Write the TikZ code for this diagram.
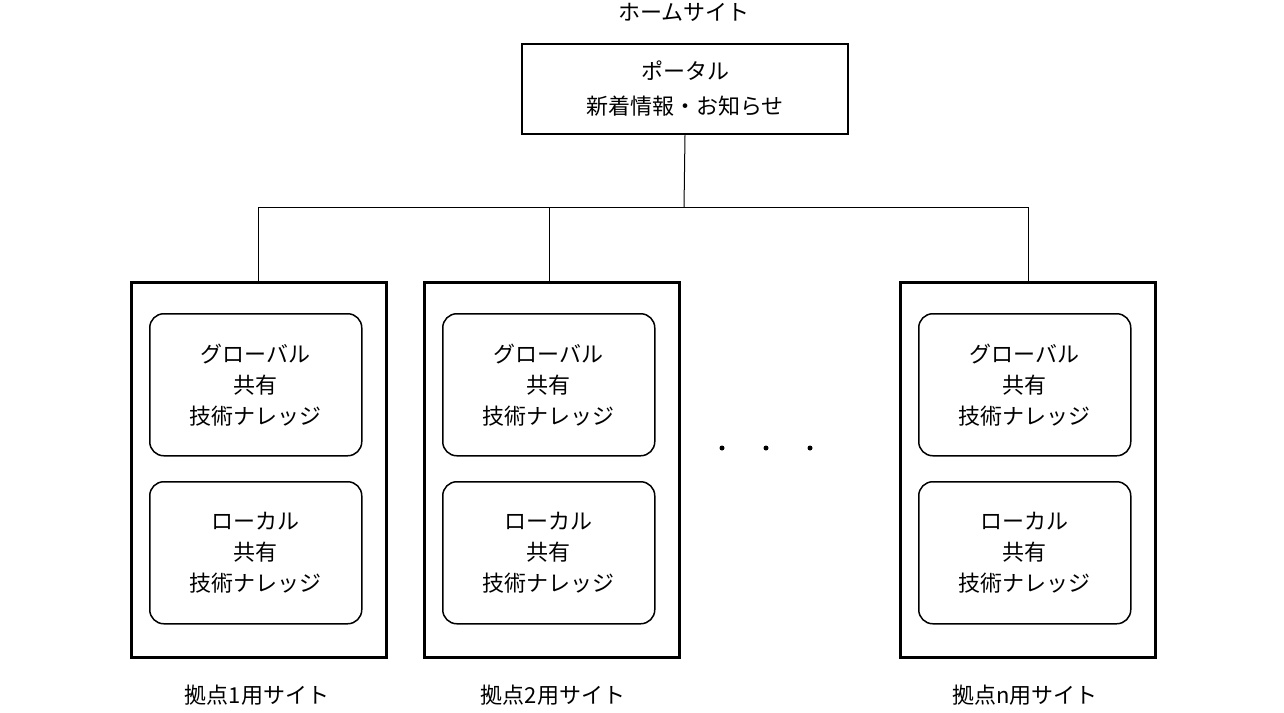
\documentclass[tikz,border=0pt]{standalone}
\usepackage{fontspec}
\setmainfont{Noto Sans CJK JP}
\begin{document}
\begin{tikzpicture}[x=1pt,y=-1pt,
  outer/.style={draw,line width=2.5pt,minimum width=255pt,minimum height=375pt,anchor=north west,inner sep=0pt},
  inner/.style={draw,line width=1.5pt,rounded corners=14pt,minimum width=212pt,minimum height=142pt,anchor=north west,align=center,font=\fontsize{22}{31}\selectfont},
  lbl/.style={font=\fontsize{22}{31}\selectfont},
  conn/.style={line width=1pt}]
\useasboundingbox (0,0) rectangle (1284,712);
\node[lbl] (title) at (684,12) {ホームサイト};
\node[draw,line width=2.5pt,minimum width=326pt,minimum height=90pt,align=center,font=\fontsize{22}{35}\selectfont] (portal) at (685,89) {ポータル\\新着情報・お知らせ};
\coordinate (j) at (684,207);
\foreach \n/\x/\c in {a/130/258,b/423/549,c/899/1028}{
  \node[outer] (\n) at (\x,281) {};
  \node[inner] (\n1) at (\x+19,313) {グローバル\\共有\\技術ナレッジ};
  \node[inner] (\n2) at (\x+19,481) {ローカル\\共有\\技術ナレッジ};
  \coordinate (\n t) at (\c,281);
  \draw[conn] (\n t) -- (\c,207);
}
\draw[conn] (portal.south) -- (j);
\draw[conn] (258,207) -- (1028,207);
\node[lbl] (la) at (257,695) {拠点1用サイト};
\node[lbl] (lb) at (553,695) {拠点2用サイト};
\node[lbl] (lc) at (1025,695) {拠点n用サイト};
\foreach \x in {722,766,810}{\fill (\x,448) circle (2.5pt);}
\end{tikzpicture}
\end{document}
